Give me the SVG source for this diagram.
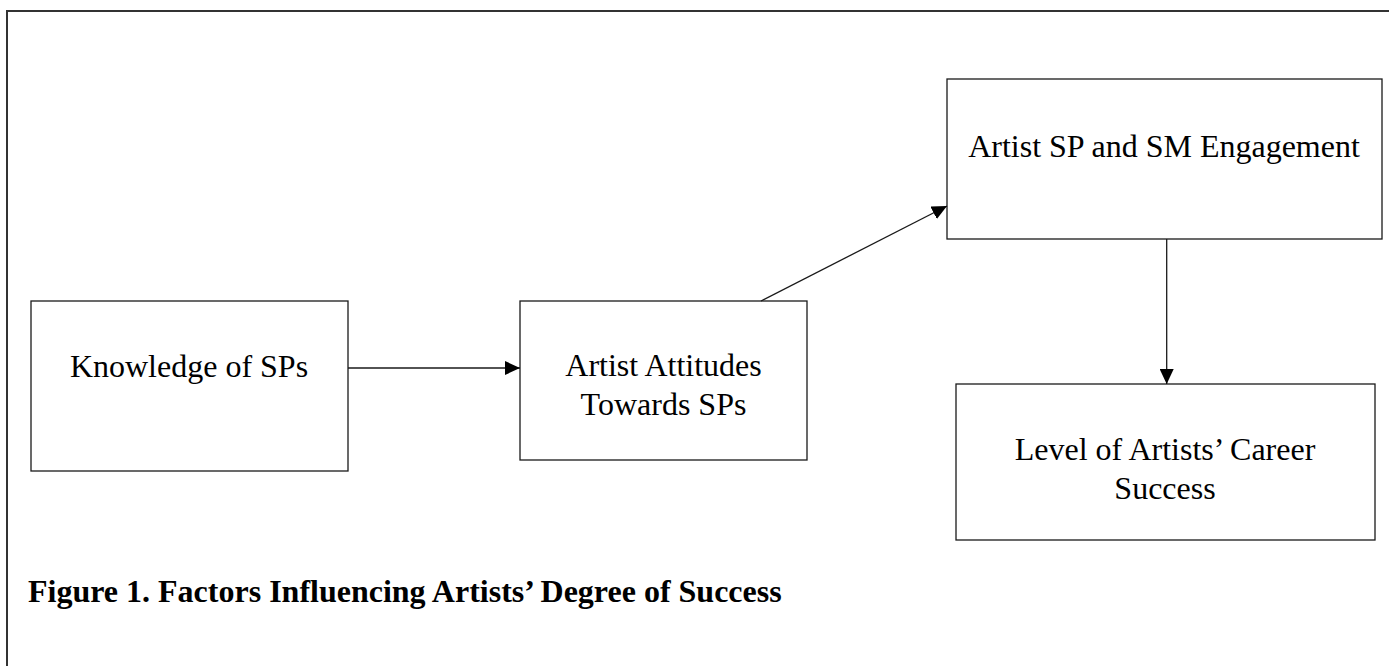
<svg xmlns="http://www.w3.org/2000/svg" width="1389" height="666" viewBox="0 0 1389 666">
<style>
.box{fill:#fff;stroke:#1a1a1a;stroke-width:1.3}
.t{font-family:"Liberation Serif","Times New Roman",serif;font-size:32px;fill:#000;text-anchor:middle}
.cap{font-family:"Liberation Serif","Times New Roman",serif;font-size:32px;font-weight:bold;fill:#000}
.edge{stroke:#1a1a1a;stroke-width:1.3;fill:none}
.frame{stroke:#333;stroke-width:2;fill:none}
</style>
<defs>
<marker id="ah" viewBox="0 0 15 14" refX="15" refY="7" markerWidth="15" markerHeight="14" markerUnits="userSpaceOnUse" orient="auto">
<path d="M0,0 L15,7 L0,14 Z" fill="#000"/>
</marker>
</defs>
<rect width="1389" height="666" fill="#fff"/>
<path class="frame" d="M7,666 L7,11 L1389,11"/>
<g id="n1">
<rect class="box" x="31" y="301" width="317" height="170"/>
<text class="t" x="189" y="377">Knowledge of SPs</text>
</g>
<g id="n2">
<rect class="box" x="520" y="301" width="287" height="159"/>
<text class="t" x="663.5" y="376">Artist Attitudes</text>
<text class="t" x="663.5" y="415">Towards SPs</text>
</g>
<g id="n3">
<rect class="box" x="947" y="79" width="435" height="160"/>
<text class="t" x="1164" y="157">Artist SP and SM Engagement</text>
</g>
<g id="n4">
<rect class="box" x="956" y="384" width="419" height="156"/>
<text class="t" x="1165" y="460">Level of Artists’ Career</text>
<text class="t" x="1165" y="499">Success</text>
</g>
<g id="connectors">
<line class="edge" x1="348" y1="368" x2="520" y2="368" marker-end="url(#ah)"/>
<line class="edge" x1="761" y1="301" x2="947" y2="206" marker-end="url(#ah)"/>
<line class="edge" x1="1166.7" y1="239" x2="1166.7" y2="384" marker-end="url(#ah)"/>
</g>
<text class="cap" x="28" y="602">Figure 1. Factors Influencing Artists’ Degree of Success</text>
</svg>
